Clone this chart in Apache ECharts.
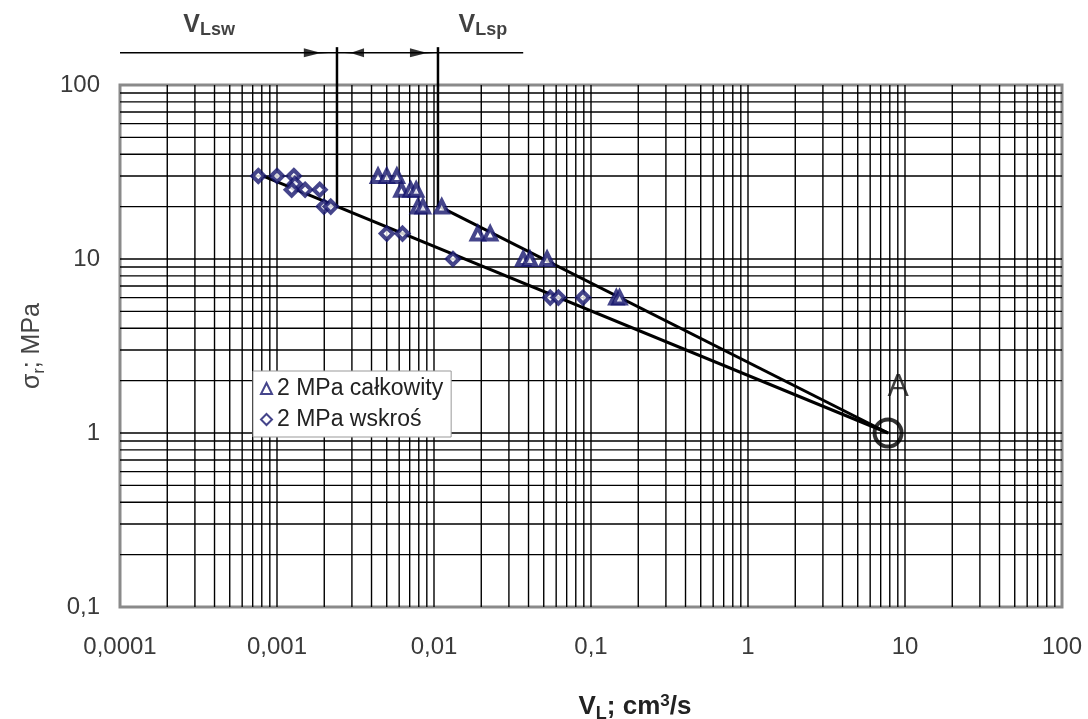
<!DOCTYPE html>
<html>
<head>
<meta charset="utf-8">
<script src="https://cdn.jsdelivr.net/npm/echarts@6/dist/echarts.min.js"></script>
<style>
html, body { margin: 0; padding: 0; background: #fff; }
#chart { width: 1088px; height: 719px; }
</style>
</head>
<body>
<div id="chart"></div>
<script>
// tick labels (decimal comma, as in the original)
var xTickLabels = ['0,0001', '0,001', '0,01', '0,1', '1', '10', '100']
var yTickLabels = ['0,1', '1', '10', '100']

// 2 MPa całkowity (triangles)
var calkX = [0.0044, 0.0050, 0.0058, 0.0062, 0.0071, 0.0077, 0.0079, 0.0085, 0.0112, 0.0190, 0.0228, 0.0370, 0.0408, 0.0525, 0.145, 0.152]
var calkY = [30, 30, 30, 25, 25, 25, 20, 20, 20, 14, 14, 10, 10, 10, 6, 6]

// 2 MPa wskroś (diamonds)
var wskrX = [0.00076, 0.0010, 0.00128, 0.0013, 0.00124, 0.00151, 0.00187, 0.00199, 0.0022, 0.0050, 0.0063, 0.0132, 0.055, 0.062, 0.089]
var wskrY = [30, 30, 30, 27, 25, 25, 25, 20, 20, 14, 14, 10, 6, 6, 6]

// point A and fitted lines
var pointA = [7.8, 1]
var lineWskr = [[0.00081, 30], [7.8, 1]]
var lineCalk = [[0.0104, 20.4], [7.8, 1]]

// V_Lsw / V_Lsp markers above the plot
var vLsw = 0.00241
var vLsp = 0.0106
var vBottom = 20.4
var annotY = 153
var annotTop = 165
var annotLine = [[0.0001, annotY], [0.037, annotY]]
var arrowsRight = [[0.00182, annotY], [0.00863, annotY]]
var arrowsLeft = [[0.00305, annotY]]
var annotLabels = [[0.00037, annotY, 'Lsw'], [0.0205, annotY, 'Lsp']]

var navy = '#16166e'
var arrowPath = 'path://M0,0.5 L10,2.5 L14,3.3 L28,4 L14,4.7 L10,5.5 L0,7.5 Z'

// log grid (2..9 in every decade plus inner decades), drawn as broken line segments
var gridPts = []
for (var e = -4; e <= 1; e++) {
  for (var k = 1; k <= 9; k++) {
    if (e === -4 && k === 1) continue
    var xv = k * Math.pow(10, e)
    gridPts.push([xv, 0.1], [xv, 100], ['-', '-'])
  }
}
for (var e2 = -1; e2 <= 1; e2++) {
  for (var k2 = 1; k2 <= 9; k2++) {
    if (e2 === -1 && k2 === 1) continue
    var yv = k2 * Math.pow(10, e2)
    gridPts.push([0.0001, yv], [100, yv], ['-', '-'])
  }
}

var chart = echarts.init(document.getElementById('chart'))

var option = {
  animation: false,
  textStyle: { fontFamily: 'Liberation Sans, Arial, sans-serif' },
  grid: {
    left: 120, right: 26, top: 85, bottom: 112,
    outerBoundsMode: 'none',
    show: true, borderColor: '#8a8a8a', borderWidth: 3
  },
  legend: {
    orient: 'vertical',
    left: 253,
    top: 371,
    backgroundColor: '#fff',
    borderColor: '#999',
    borderWidth: 1,
    borderRadius: 0,
    padding: [6, 8, 6, 7],
    itemGap: 8,
    itemWidth: 11,
    itemHeight: 11,
    textStyle: { fontSize: 23, color: '#222', width: 184 },
    data: ['2 MPa całkowity', '2 MPa wskroś']
  },
  xAxis: {
    type: 'log',
    min: 0.0001,
    max: 100,
    logBase: 10,
    name: '{v|V}{sub|L}{v|; cm}{sup|3}{v|/s}',
    nameLocation: 'middle',
    nameGap: 84,
    nameTextStyle: {
      padding: [0, 0, 0, 88],
      rich: {
        v: { fontSize: 26, fontWeight: 'bold', color: '#222' },
        sub: { fontSize: 18, fontWeight: 'bold', color: '#222', padding: [14, 0, 0, 0] },
        sup: { fontSize: 17, fontWeight: 'bold', color: '#222', padding: [0, 0, 12, 0] }
      }
    },
    axisLine: { show: false },
    axisTick: { show: false },
    splitLine: { show: false },
    axisLabel: {
      fontSize: 24,
      color: '#3a3a3a',
      margin: 28,
      formatter: function (v) {
        return xTickLabels[Math.round(Math.log10(v)) + 4]
      }
    }
  },
  yAxis: {
    type: 'log',
    min: 0.1,
    max: 100,
    logBase: 10,
    name: '{v|σ}{sub|r}{v|; MPa}',
    nameLocation: 'middle',
    nameGap: 72,
    nameRotate: 90,
    nameTextStyle: {
      rich: {
        v: { fontSize: 25, color: '#444' },
        sub: { fontSize: 16, color: '#444', padding: [15, 0, 0, 0] }
      }
    },
    axisLine: { show: false },
    axisTick: { show: false },
    splitLine: { show: false },
    axisLabel: {
      fontSize: 24,
      color: '#3a3a3a',
      margin: 20,
      formatter: function (v) {
        return yTickLabels[Math.round(Math.log10(v)) + 1]
      }
    }
  },
  series: [
    {
      name: 'grid',
      type: 'line',
      data: gridPts,
      connectNulls: false,
      symbol: 'none',
      silent: true,
      z: 1,
      lineStyle: { color: '#000', width: 1.4 }
    },
    {
      name: 'fitWskr',
      type: 'line',
      data: lineWskr,
      symbol: 'none',
      z: 3,
      lineStyle: { color: '#000', width: 3 }
    },
    {
      name: 'fitCalk',
      type: 'line',
      data: lineCalk,
      symbol: 'none',
      z: 3,
      lineStyle: { color: '#000', width: 3 }
    },
    {
      name: 'vLsw',
      type: 'line',
      clip: false,
      data: [[vLsw, vBottom], [vLsw, annotTop]],
      symbol: 'none',
      z: 3,
      lineStyle: { color: '#000', width: 2.5 }
    },
    {
      name: 'vLsp',
      type: 'line',
      clip: false,
      data: [[vLsp, vBottom], [vLsp, annotTop]],
      symbol: 'none',
      z: 3,
      lineStyle: { color: '#000', width: 2.5 }
    },
    {
      name: 'annot',
      type: 'line',
      clip: false,
      data: annotLine,
      symbol: 'none',
      z: 3,
      lineStyle: { color: '#000', width: 1.5 }
    },
    {
      name: 'arrR',
      type: 'scatter',
      clip: false,
      data: arrowsRight,
      symbol: arrowPath,
      symbolSize: [28, 9],
      itemStyle: { color: '#000' },
      z: 4
    },
    {
      name: 'arrL',
      type: 'scatter',
      clip: false,
      data: arrowsLeft,
      symbol: arrowPath,
      symbolRotate: 180,
      symbolSize: [22, 9],
      itemStyle: { color: '#000' },
      z: 4
    },
    {
      name: 'labels',
      type: 'scatter',
      clip: false,
      symbolSize: 0,
      data: annotLabels.map(function (d) {
        return { value: [d[0], d[1]], label: { formatter: '{v|V}{s|' + d[2] + '}' } }
      }),
      label: {
        show: true,
        position: 'top',
        distance: 14,
        rich: {
          v: { fontSize: 25, fontWeight: 'bold', color: '#111' },
          s: { fontSize: 18, fontWeight: 'bold', color: '#111', padding: [9, 0, 0, 0] }
        }
      },
      z: 4
    },
    {
      name: '2 MPa całkowity',
      type: 'scatter',
      data: calkX.map(function (x, i) { return [x, calkY[i]] }),
      symbol: 'triangle',
      symbolSize: 12,
      itemStyle: { color: '#fff', borderColor: navy, borderWidth: 4 },
      z: 5
    },
    {
      name: '2 MPa wskroś',
      type: 'scatter',
      data: wskrX.map(function (x, i) { return [x, wskrY[i]] }),
      symbol: 'diamond',
      symbolSize: 12,
      itemStyle: { color: '#fff', borderColor: navy, borderWidth: 4 },
      z: 5
    },
    {
      name: 'A',
      type: 'scatter',
      data: [pointA],
      symbol: 'circle',
      symbolSize: 27,
      itemStyle: { color: 'rgba(0,0,0,0)', borderColor: '#000', borderWidth: 4 },
      label: {
        show: true,
        formatter: 'A',
        position: 'top',
        distance: 14,
        offset: [10, 0],
        fontSize: 32,
        color: '#111'
      },
      z: 6
    }
  ]
}

chart.setOption(option)
</script>
</body>
</html>
